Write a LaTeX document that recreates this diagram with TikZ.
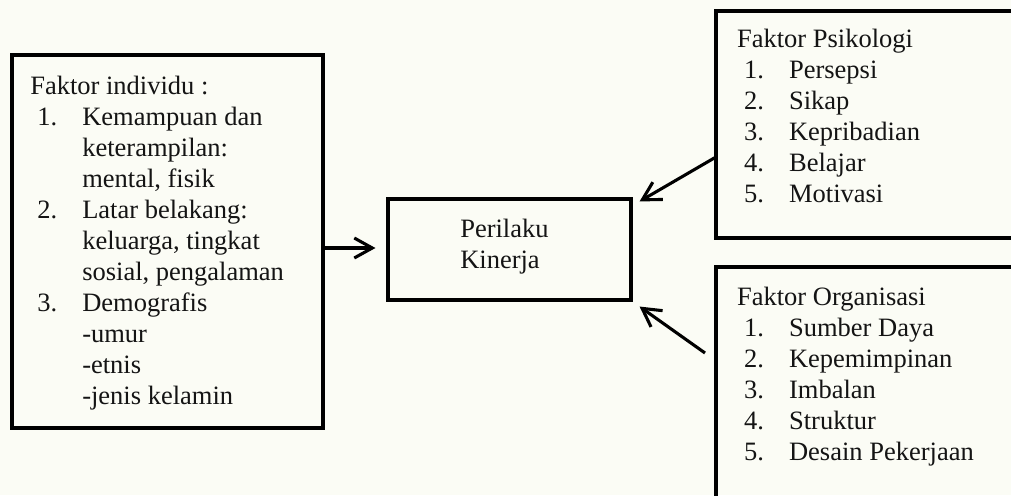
\documentclass[tikz,border=0pt]{standalone}
\usepackage{fontspec}
\setmainfont{Liberation Serif}
\usetikzlibrary{arrows.meta}

\definecolor{paper}{RGB}{251,252,245}
\definecolor{ink}{RGB}{20,20,20}
\tikzstyle{box}=[draw=black,line width=2.2pt,inner sep=0pt]
\tikzstyle{txt}=[anchor=north west,align=left,inner sep=0pt,text=ink,font=\fontsize{18.85pt}{22.05pt}\selectfont]
\tikzstyle{arr}=[line width=2.2pt,-{Straight Barb[length=0.45cm,width=0.5cm]}]
\newcommand{\nr}[1]{\makebox[1.3cm][l]{\hspace*{0.175cm}#1}}
\newcommand{\cont}{\makebox[1.3cm]{}}

\begin{document}
\begin{tikzpicture}[scale=1]
\clip (0,0) rectangle (25.275,12.375);
\fill[paper] (0,0) rectangle (25.275,12.375);

% boxes
\node[box,minimum width=7.775cm,minimum height=9.325cm] (INDIV) at (4.1875,6.3375) {};
\node[box,minimum width=6.075cm,minimum height=2.525cm] (KINERJA) at (12.7375,6.1375) {};
\node[box,minimum width=8.1cm,minimum height=5.675cm] (PSIKO) at (21.95,9.2625) {};
\node[box,minimum width=8.1cm,minimum height=6.325cm] (ORG) at (21.95,2.5375) {};

% texts
\node[txt] (INDIVtxt) at (0.75,10.55) {\strut Faktor individu :\\
\nr{1.}Kemampuan dan\\ \cont keterampilan:\\ \cont mental, fisik\\
\nr{2.}Latar belakang:\\ \cont keluarga, tingkat\\ \cont sosial, pengalaman\\
\nr{3.}Demografis\\ \cont -umur\\ \cont -etnis\\ \cont -jenis kelamin};
\node[txt] (KINERJAtxt) at (11.5,6.98) {\strut Perilaku\\ Kinerja};
\node[txt] (PSIKOtxt) at (18.42,11.73) {\strut Faktor Psikologi\\
\nr{1.}Persepsi\\ \nr{2.}Sikap\\ \nr{3.}Kepribadian\\ \nr{4.}Belajar\\ \nr{5.}Motivasi};
\node[txt] (ORGtxt) at (18.42,5.28) {\strut Faktor Organisasi\\
\nr{1.}Sumber Daya\\ \nr{2.}Kepemimpinan\\ \nr{3.}Imbalan\\ \nr{4.}Struktur\\ \nr{5.}Desain Pekerjaan};

% arrows
\coordinate (PSIKOout) at (17.9,8.45);
\coordinate (ORGout) at (17.625,3.55);
\draw[arr] (INDIV.east |- 0,6.175) -- ([xshift=-0.275cm]KINERJA.west |- 0,6.175);
\draw[arr] (PSIKOout) -- ([shift={(0.175,-0.1)}]KINERJA.north east);
\draw[arr] (ORGout) -- ([shift={(0.175,-0.125)}]KINERJA.south east);
\end{tikzpicture}
\end{document}
